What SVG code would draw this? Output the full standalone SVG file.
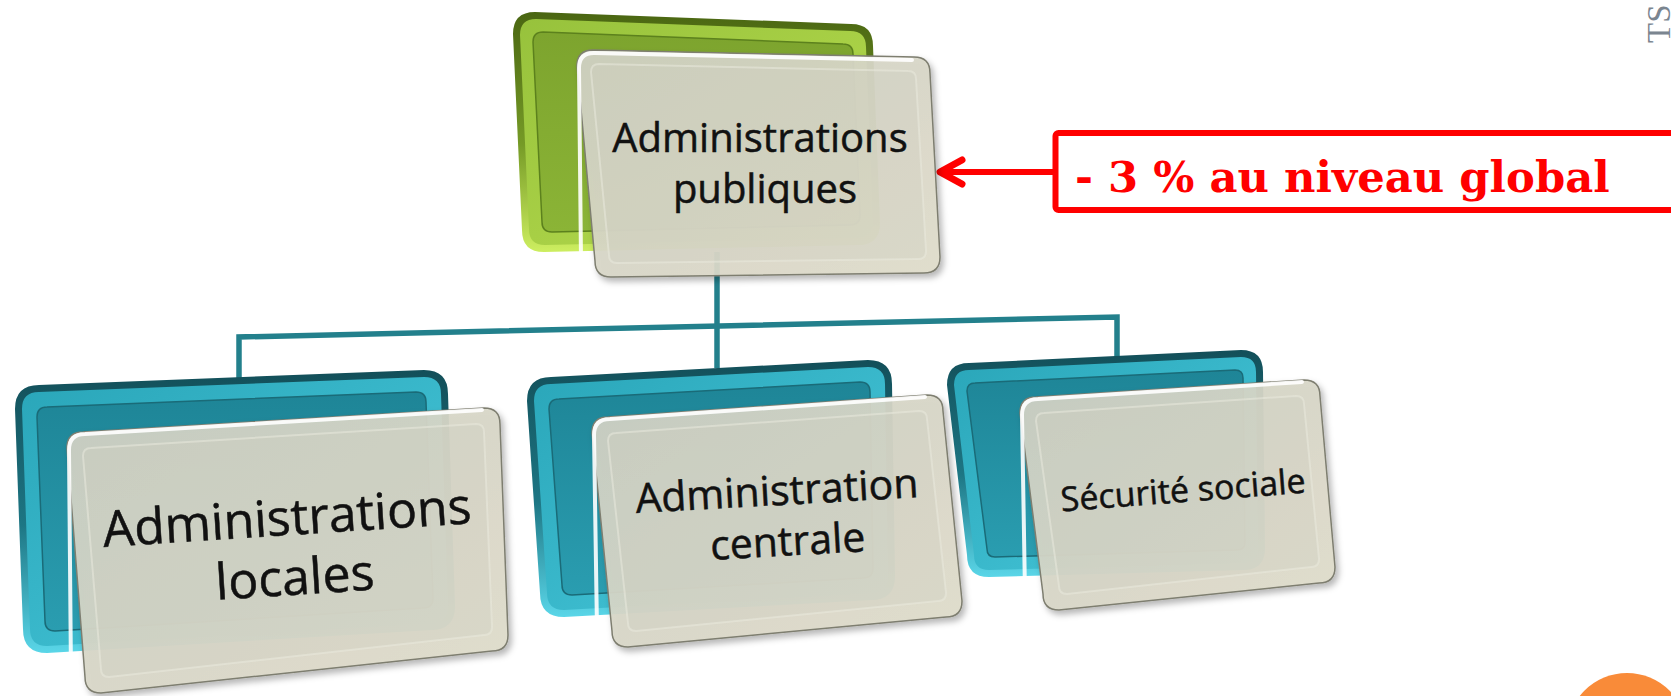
<svg xmlns="http://www.w3.org/2000/svg" width="1671" height="696" viewBox="0 0 1671 696">
  <defs>
    <linearGradient id="tealOuter" x1="0" y1="0" x2="0" y2="1">
      <stop offset="0" stop-color="#134f59"/>
      <stop offset="0.55" stop-color="#1d7684"/>
      <stop offset="1" stop-color="#5ad6e8"/>
    </linearGradient>
    <linearGradient id="tealBand" x1="0" y1="0" x2="1" y2="1">
      <stop offset="0" stop-color="#2aa6b9"/>
      <stop offset="1" stop-color="#48c9dc"/>
    </linearGradient>
    <linearGradient id="tealFace" x1="0" y1="0" x2="0" y2="1">
      <stop offset="0" stop-color="#1e8597"/>
      <stop offset="1" stop-color="#2a9db0"/>
    </linearGradient>
    <linearGradient id="greenOuter" x1="0" y1="0" x2="0" y2="1">
      <stop offset="0" stop-color="#4a6612"/>
      <stop offset="0.55" stop-color="#759a26"/>
      <stop offset="1" stop-color="#cdee60"/>
    </linearGradient>
    <linearGradient id="greenBand" x1="0" y1="0" x2="1" y2="1">
      <stop offset="0" stop-color="#97c23c"/>
      <stop offset="1" stop-color="#b7dc4e"/>
    </linearGradient>
    <linearGradient id="greenFace" x1="0" y1="0" x2="0" y2="1">
      <stop offset="0" stop-color="#7da42e"/>
      <stop offset="1" stop-color="#8bb436"/>
    </linearGradient>
    <linearGradient id="cardFill" x1="0" y1="0" x2="1" y2="1">
      <stop offset="0" stop-color="#d0d1c4"/>
      <stop offset="1" stop-color="#e1ddcc"/>
    </linearGradient>
    <filter id="shadow" x="-10%" y="-10%" width="125%" height="125%">
      <feDropShadow dx="3" dy="4" stdDeviation="3" flood-color="#000" flood-opacity="0.3"/>
    </filter>
  </defs>
  <style>
    .tOuter { fill: url(#tealOuter); }
    .tBand { fill: url(#tealBand); }
    .tFace { fill: url(#tealFace); stroke: #1a6b78; stroke-width: 1.5; }
    .gOuter { fill: url(#greenOuter); }
    .gBand { fill: url(#greenBand); }
    .gFace { fill: url(#greenFace); stroke: #5c811d; stroke-width: 1.5; }
    .card { fill: url(#cardFill); fill-opacity: 0.93; stroke: #7e7e70; stroke-width: 1.5; filter: url(#shadow); }
    .panel { fill: #cdcec1; fill-opacity: 0.35; stroke: #ecebe0; stroke-width: 2; stroke-opacity: 0.5; }
    .hl { fill: none; stroke: #ffffff; stroke-width: 4; stroke-linecap: round; stroke-linejoin: round; opacity: 0.9; }
    .lbl { font-family: "Open Sans", "Liberation Sans", sans-serif; fill: #111111; stroke: #111111; stroke-width: 0.5; text-anchor: middle; }
    .conn { fill: none; stroke: #23808c; stroke-width: 5.5; stroke-linejoin: miter; }
  </style>

  <rect x="0" y="0" width="1671" height="696" fill="#ffffff"/>

  <g id="connectors">
    <path class="conn" d="M717,252 L717,368"/>
    <path class="conn" d="M239,382 L239,337 L1117,317 L1117,360"/>
    <path d="M1053,172 L943,172" fill="none" stroke="#ff0000" stroke-width="6"/>
    <path d="M962,160 L940,172 L962,184" fill="none" stroke="#ff0000" stroke-width="7" stroke-linecap="round" stroke-linejoin="round"/>
  </g>

  <g id="node-admin-publiques">
    <path class="gOuter" d="M535,12 L851,24 Q873,24 873,46 L880,223 Q880,245 858,245 L544,252 Q522,252 522,230 L513,34 Q513,12 535,12 Z"/>
    <path class="gBand" d="M536,19 L850,31 Q866,31 866,47 L873,222 Q873,238 857,238 L545,245 Q529,245 529,229 L520,35 Q520,19 536,19 Z"/>
    <path class="gFace" d="M543,32 L843,44 Q853,44 853,54 L860,215 Q860,225 850,225 L552,232 Q542,232 542,222 L533,42 Q533,32 543,32 Z"/>
    <path class="card" d="M593,50 L914,57 Q930,57 930,73 L940,257 Q940,273 924,273 L611,277 Q595,277 595,261 L577,66 Q577,50 593,50 Z"/>
    <path class="panel" d="M599,64 L908,71 Q916,71 916,79 L926,251 Q926,259 918,259 L617,263 Q609,263 609,255 L591,72 Q591,64 599,64 Z"/>
    <path class="hl" d="M581,260 L579,68 Q579,53 594,53 L912,60"/>
    <text class="lbl" x="760" y="152" font-size="40">Administrations</text>
    <text class="lbl" x="765" y="203" font-size="40">publiques</text>
  </g>

  <g id="node-admin-locales">
    <path class="tOuter" d="M39,385 L424,370 Q448,370 448,394 L455,606 Q455,630 431,630 L47,653 Q23,653 23,629 L15,409 Q15,385 39,385 Z"/>
    <path class="tBand" d="M39,392 L424,377 Q441,377 441,394 L448,606 Q448,623 431,623 L47,646 Q30,646 30,629 L22,409 Q22,392 39,392 Z"/>
    <path class="tFace" d="M47,407 L416,392 Q426,392 426,402 L433,598 Q433,608 423,608 L55,631 Q45,631 45,621 L37,417 Q37,407 47,407 Z"/>
    <path class="card" d="M83,432 L484,408 Q500,408 500,424 L508,635 Q508,651 492,651 L101,693 Q85,693 85,677 L67,448 Q67,432 83,432 Z"/>
    <path class="panel" d="M91,448 L476,424 Q484,424 484,432 L492,627 Q492,635 484,635 L109,677 Q101,677 101,669 L83,456 Q83,448 91,448 Z"/>
    <path class="hl" d="M71,676 L69,450 Q69,434 85,434 L482,410"/>
    <g transform="rotate(-3.7 290 565)">
      <text class="lbl" x="290" y="535" font-size="50">Administrations</text>
      <text class="lbl" x="294" y="595" font-size="50">locales</text>
    </g>
  </g>

  <g id="node-admin-centrale">
    <path class="tOuter" d="M551,377 L868,360 Q892,360 892,384 L895,576 Q895,600 871,600 L564,617 Q540,617 540,593 L527,401 Q527,377 551,377 Z"/>
    <path class="tBand" d="M551,384 L868,367 Q885,367 885,384 L888,576 Q888,593 871,593 L564,610 Q547,610 547,593 L534,401 Q534,384 551,384 Z"/>
    <path class="tFace" d="M559,399 L860,382 Q870,382 870,392 L873,568 Q873,578 863,578 L572,595 Q562,595 562,585 L549,409 Q549,399 559,399 Z"/>
    <path class="card" d="M608,417 L927,395 Q943,395 943,411 L962,601 Q962,617 946,617 L628,647 Q612,647 612,631 L592,433 Q592,417 608,417 Z"/>
    <path class="panel" d="M616,433 L919,411 Q927,411 927,419 L946,593 Q946,601 938,601 L636,631 Q628,631 628,623 L608,441 Q608,433 616,433 Z"/>
    <path class="hl" d="M597,630 L594,435 Q594,419 610,419 L925,397"/>
    <g transform="rotate(-3.2 780 530)">
      <text class="lbl" x="779" y="505" font-size="41">Administration</text>
      <text class="lbl" x="787" y="556" font-size="41">centrale</text>
    </g>
  </g>

  <g id="node-securite-sociale">
    <path class="tOuter" d="M969,363 L1241,350 Q1263,350 1263,372 L1265,548 Q1265,570 1243,570 L989,577 Q967,577 967,555 L947,385 Q947,363 969,363 Z"/>
    <path class="tBand" d="M969,370 L1241,357 Q1256,357 1256,372 L1258,548 Q1258,563 1243,563 L989,570 Q974,570 974,555 L954,385 Q954,370 969,370 Z"/>
    <path class="tFace" d="M975,383 L1235,370 Q1243,370 1243,378 L1245,542 Q1245,550 1237,550 L995,557 Q987,557 987,549 L967,391 Q967,383 975,383 Z"/>
    <path class="card" d="M1036,397 L1304,380 Q1320,380 1320,396 L1335,567 Q1335,583 1319,583 L1059,610 Q1043,610 1043,594 L1020,413 Q1020,397 1036,397 Z"/>
    <path class="panel" d="M1044,413 L1296,396 Q1304,396 1304,404 L1319,559 Q1319,567 1311,567 L1067,594 Q1059,594 1059,586 L1036,421 Q1036,413 1044,413 Z"/>
    <path class="hl" d="M1025,593 L1022,415 Q1022,399 1038,399 L1302,382"/>
    <text class="lbl" x="1184" y="502" font-size="34" transform="rotate(-4.4 1184 502)">Sécurité sociale</text>
  </g>

  <g id="callout">
    <rect x="1055.5" y="133" width="640" height="77" rx="3" fill="#ffffff" stroke="#ff0000" stroke-width="6"/>
    <text x="1075" y="192" font-family="DejaVu Serif, Liberation Serif, serif" font-weight="bold" font-size="43.3" fill="#ff0000">- 3 % au niveau global</text>
  </g>

  <text transform="translate(1670,43) rotate(-90)" x="0" y="0" font-family="Liberation Serif, serif" font-size="33" fill="#7b8590">TS</text>

  <circle cx="1627" cy="733" r="60" fill="#f98b39"/>
</svg>
